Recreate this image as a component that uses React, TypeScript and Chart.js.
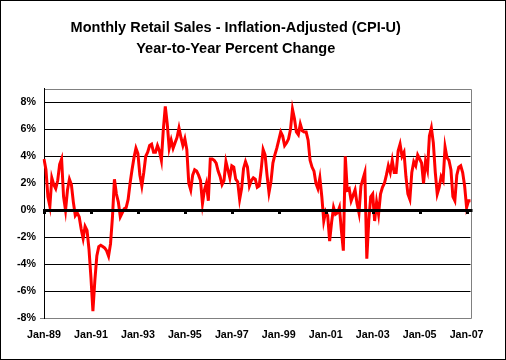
import React, { useEffect, useRef } from 'react';
import { Chart, registerables } from 'chart.js';

Chart.register(...registerables);

// Year-to-year % change, monthly, Jan-89 .. Mar-07
const yoy1989 = [3.8, 3.0, 1.0, 0.3, 2.4, 1.9, 1.6, 2.2, 3.4, 3.8, 1.0, 0.0];
const yoy1990 = [1.5, 2.3, 1.9, 0.6, -0.4, -0.2, -0.5, -1.4, -2.1, -1.2, -1.5, -2.9];
const yoy1991 = [-5.0, -7.5, -5.2, -3.4, -2.7, -2.6, -2.7, -2.8, -3.0, -3.4, -2.5, -0.5];
const yoy1992 = [2.3, 1.2, 0.6, -0.5, -0.2, 0.1, 0.2, 0.8, 2.0, 3.0, 3.9, 4.6];
const yoy1993 = [4.2, 2.6, 1.8, 2.8, 4.0, 4.3, 4.8, 4.9, 4.3, 4.3, 4.8, 4.4];
const yoy1994 = [3.7, 6.0, 7.7, 6.4, 4.6, 5.2, 4.6, 5.0, 5.4, 6.1, 5.4, 4.8];
const yoy1995 = [5.3, 4.5, 2.0, 1.5, 2.6, 3.0, 2.9, 2.6, 2.2, 0.5, 1.5, 2.0];
const yoy1996 = [0.7, 3.8, 3.8, 3.7, 3.5, 2.9, 2.5, 1.9, 2.2, 3.6, 3.0, 2.4];
const yoy1997 = [3.3, 3.2, 2.3, 2.1, 0.8, 1.6, 3.1, 3.6, 3.2, 1.8, 2.2, 2.4];
const yoy1998 = [2.3, 1.7, 1.8, 3.0, 4.5, 4.1, 2.6, 1.3, 2.1, 3.5, 4.1, 4.6];
const yoy1999 = [5.2, 5.8, 5.5, 4.8, 5.0, 5.3, 6.0, 7.5, 6.8, 5.8, 5.6, 6.4];
const yoy2000 = [5.9, 5.8, 5.8, 5.2, 3.7, 3.2, 2.9, 2.0, 1.6, 2.4, 1.0, -0.8];
const yoy2001 = [-0.1, -0.4, -2.3, -0.9, 0.2, -0.3, -0.2, 0.2, -1.5, -3.0, 4.0, 1.5];
const yoy2002 = [1.6, 0.7, 1.1, 1.5, 0.5, -0.2, 1.8, 2.3, 2.8, -3.6, -0.8, 1.0];
const yoy2003 = [1.2, -0.8, 0.6, -0.3, 1.2, 1.7, 2.0, 2.6, 3.3, 2.8, 3.7, 2.8];
const yoy2004 = [2.8, 4.4, 4.9, 4.0, 4.3, 2.5, 1.2, 0.8, 2.8, 3.6, 3.3, 4.1];
const yoy2005 = [3.8, 3.5, 2.0, 3.6, 3.0, 5.5, 6.1, 5.0, 2.8, 1.2, 1.7, 2.5];
const yoy2006 = [2.2, 4.7, 3.9, 3.7, 3.0, 1.0, 0.7, 2.6, 3.2, 3.3, 2.8, 1.8];
const yoy2007 = [0.2, 0.7, 0.7];

const monthNames = ['Jan', 'Feb', 'Mar', 'Apr', 'May', 'Jun', 'Jul', 'Aug', 'Sep', 'Oct', 'Nov', 'Dec'];
const startYear = 1989;
const tickLabels = ['Jan-89', 'Jan-91', 'Jan-93', 'Jan-95', 'Jan-97', 'Jan-99', 'Jan-01', 'Jan-03', 'Jan-05', 'Jan-07'];
const titleLines = ['Monthly Retail Sales - Inflation-Adjusted (CPI-U)', 'Year-to-Year Percent Change'];

const values = [
  ...yoy1989, ...yoy1990, ...yoy1991, ...yoy1992, ...yoy1993, ...yoy1994,
  ...yoy1995, ...yoy1996, ...yoy1997, ...yoy1998, ...yoy1999, ...yoy2000,
  ...yoy2001, ...yoy2002, ...yoy2003, ...yoy2004, ...yoy2005, ...yoy2006, ...yoy2007,
];
const categories = values.map((_, i) => {
  const y = startYear + Math.floor(i / 12);
  return monthNames[i % 12] + '-' + String(y % 100).padStart(2, '0');
});

const FONT = 'Liberation Sans, Arial, sans-serif';
const GRAY = '#808080';

const framePlugin = {
  id: 'frame',
  beforeDraw(chart: any) {
    const { ctx, chartArea: a } = chart;
    ctx.save();
    ctx.fillStyle = '#fff';
    ctx.fillRect(0, 0, chart.width, chart.height);
    ctx.strokeStyle = GRAY;
    ctx.lineWidth = 1;
    ctx.beginPath();
    ctx.moveTo(Math.round(a.left) + 0.5, Math.round(a.top) + 0.5);
    ctx.lineTo(Math.round(a.right) + 0.5, Math.round(a.top) + 0.5);
    ctx.lineTo(Math.round(a.right) + 0.5, Math.round(a.bottom) + 0.5);
    ctx.lineTo(Math.round(a.left) - 4, Math.round(a.bottom) + 0.5);
    ctx.stroke();
    ctx.restore();
  },
  afterDatasetsDraw(chart: any) {
    const { ctx, chartArea: a, scales } = chart;
    const y0 = Math.round(scales.y.getPixelForValue(0));
    ctx.save();
    ctx.fillStyle = '#000';
    ctx.fillRect(a.left - 1, y0 - 1, a.right - a.left + 3, 3);
    categories.forEach((c, i) => {
      if (tickLabels.includes(c)) {
        const x = Math.round(scales.x.getPixelForValue(i));
        ctx.fillRect(x - 1, y0 + 2, 3, 2);
      }
    });
    ctx.restore();
  },
};

export default function App() {
  const ref = useRef<HTMLCanvasElement | null>(null);
  useEffect(() => {
    if (!ref.current) return;
    const chart = new Chart(ref.current, {
      type: 'line',
      data: {
        labels: categories,
        datasets: [
          {
            data: values,
            borderColor: '#ff0000',
            borderWidth: 3,
            pointRadius: 0,
            tension: 0,
            fill: false,
          },
        ],
      },
      options: {
        animation: false,
        responsive: false,
        devicePixelRatio: 1,
        layout: { padding: { left: 0, right: 34.5, top: 0, bottom: 0 } },
        plugins: {
          legend: { display: false },
          tooltip: { enabled: false },
          title: {
            display: true,
            text: titleLines,
            color: '#000',
            font: { family: FONT, size: 14.5, weight: 'bold', lineHeight: 1.48 },
            padding: { top: 16, bottom: 29 },
          },
        },
        scales: {
          x: {
            type: 'category',
            offset: false,
            grid: { display: false, drawTicks: false },
            border: { display: false },
            afterFit: (s: any) => { s.height = 41; },
            ticks: {
              autoSkip: false,
              maxRotation: 0,
              minRotation: 0,
              padding: 10.5,
              color: '#000',
              font: { family: FONT, size: 10.7, weight: 'bold' },
              callback: function (this: any, v: any) {
                const l = this.getLabelForValue(v);
                return tickLabels.includes(l) ? l : '';
              },
            },
          },
          y: {
            min: -8,
            max: 9,
            afterFit: (s: any) => { s.width = 43; },
            grid: {
              drawTicks: false,
              color: (c: any) => (c.tick && (c.tick.value === -8) ? GRAY : '#000'),
              lineWidth: 1,
            },
            border: { display: true, color: '#000', width: 1 },
            ticks: {
              stepSize: 2,
              includeBounds: false,
              padding: 8,
              color: '#000',
              font: { family: FONT, size: 10.7, weight: 'bold' },
              callback: (v: any) => v + '%',
            },
          },
        },
      },
      plugins: [framePlugin],
    });
    return () => chart.destroy();
  }, []);

  return (
    <div
      style={{
        position: 'absolute',
        left: 0,
        top: 0,
        width: 506,
        height: 360,
        boxSizing: 'border-box',
        border: '1px solid #000',
        background: '#fff',
      }}
    >
      <canvas ref={ref} width={504} height={358} style={{ display: 'block', width: 504, height: 358 }} />
    </div>
  );
}
